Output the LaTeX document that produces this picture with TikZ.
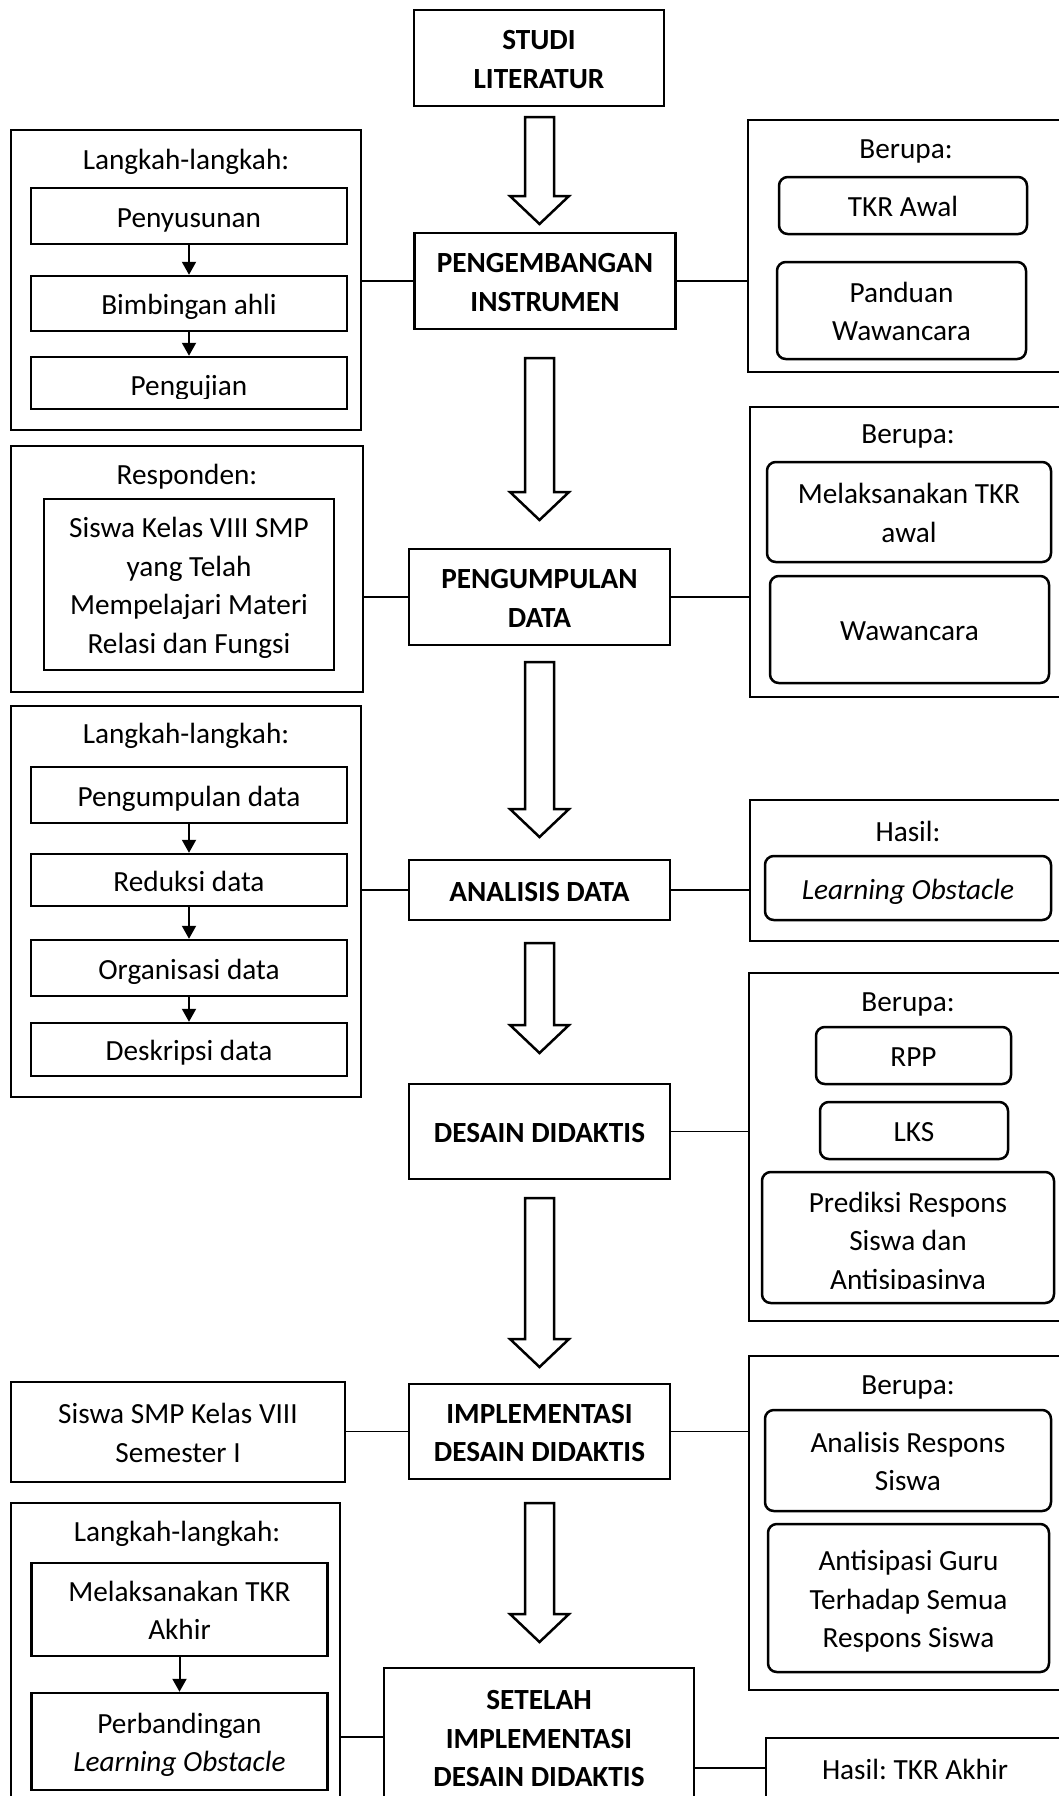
\documentclass[tikz,border=0pt]{standalone}
\usepackage{fontspec}
\setmainfont{Carlito}
\usetikzlibrary{arrows.meta}
\newcommand{\wordstrut}{\vrule width 0pt height 11pt depth 2.2pt}
\frenchspacing

\begin{document}
\begin{tikzpicture}[
  x=0.4pt, y=-0.4pt,
  every node/.style={font=\fontsize{11.7}{15.4}\selectfont, align=center, inner sep=0pt},
  boxtext/.style={execute at begin node=\wordstrut, execute at end node=\wordstrut},
  mainbox/.style={draw, line width=1pt, boxtext, font=\fontsize{11.7}{15.4}\selectfont\bfseries},
  outerbox/.style={draw, line width=1pt, boxtext},
  stepbox/.style={draw, line width=1pt, boxtext, minimum width=126.4pt},
  itembox/.style={draw, line width=1pt, boxtext, rounded corners=3.5pt},
  link/.style={line width=0.5pt},
  steparrow/.style={-{Triangle[length=5.2pt,width=5.6pt]}, line width=0.8pt},
  bigarrow/.style={draw, line width=1pt}
]
\useasboundingbox (0,0) rectangle (1059,1796);
\clip (0,0) rectangle (1059,1796);

% main flow
\node[mainbox, minimum width=100pt, minimum height=38.4pt] (studi) at (539,58) {\wordstrut STUDI\\LITERATUR};
\node[mainbox, minimum width=104.4pt, minimum height=38.4pt] (pengembangan) at (545,281) {\wordstrut PENGEMBANGAN\\INSTRUMEN};
\node[mainbox, minimum width=104.4pt, minimum height=38.4pt] (pengumpulan) at (539.5,597) {\wordstrut PENGUMPULAN\\DATA};
\node[mainbox, minimum width=104.4pt, minimum height=24pt] (analisis) at (539.5,890) {ANALISIS DATA};
\node[mainbox, minimum width=104.4pt, minimum height=38pt] (desain) at (539.5,1131.5) {DESAIN DIDAKTIS};
\node[mainbox, minimum width=104.4pt, minimum height=38pt] (implementasi) at (539.5,1431.5) {\wordstrut IMPLEMENTASI\\DESAIN DIDAKTIS};
\node[mainbox, minimum width=124pt, minimum height=55.2pt] (setelah) at (539,1737) {\wordstrut SETELAH\\IMPLEMENTASI\\DESAIN DIDAKTIS};

% hollow arrows between the stages
\draw[bigarrow] (525,117) -- ++(29,0) -- ++(0,79) -- ++(15,0) -- ++(-29.5,28) -- ++(-29.5,-28) -- ++(15,0) -- cycle;
\draw[bigarrow] (525,358) -- ++(29,0) -- ++(0,134) -- ++(15,0) -- ++(-29.5,28) -- ++(-29.5,-28) -- ++(15,0) -- cycle;
\draw[bigarrow] (525,662) -- ++(29,0) -- ++(0,147) -- ++(15,0) -- ++(-29.5,28) -- ++(-29.5,-28) -- ++(15,0) -- cycle;
\draw[bigarrow] (525,943) -- ++(29,0) -- ++(0,82) -- ++(15,0) -- ++(-29.5,28) -- ++(-29.5,-28) -- ++(15,0) -- cycle;
\draw[bigarrow] (525,1198) -- ++(29,0) -- ++(0,141) -- ++(15,0) -- ++(-29.5,28) -- ++(-29.5,-28) -- ++(15,0) -- cycle;
\draw[bigarrow] (525,1503) -- ++(29,0) -- ++(0,111) -- ++(15,0) -- ++(-29.5,28) -- ++(-29.5,-28) -- ++(15,0) -- cycle;

% left side
\node[outerbox, minimum width=140pt, minimum height=120pt] (langkahA) at (186,280) {};
\node (langkahAtitle) at (186,162) {Langkah-langkah:};
\node[stepbox, minimum height=22.4pt] (penyusunan) at (189,216) {Penyusunan};
\node[stepbox, minimum height=22pt] (bimbingan) at (189,303.5) {Bimbingan ahli};
\node[stepbox, minimum height=20.8pt] (pengujian) at (189,383) {};
\begin{scope}
  \clip (32,357) rectangle (347,398);
  \node[anchor=base] (pengujiantext) at (189,395) {Pengujian};
\end{scope}
\draw[steparrow] (penyusunan.south) -- (bimbingan.north);
\draw[steparrow] (bimbingan.south) -- (pengujian.north);

\node[outerbox, minimum width=140.8pt, minimum height=98.4pt] (responden) at (187,569) {};
\node (respondentitle) at (187,477) {Responden:};
\node[stepbox, minimum width=116pt, minimum height=68.4pt] (siswa) at (189,584.5) {\wordstrut Siswa Kelas VIII SMP\\yang Telah\\Mempelajari Materi\\Relasi dan Fungsi};

\node[outerbox, minimum width=140pt, minimum height=156.4pt] (langkahB) at (186,901.5) {};
\node (langkahBtitle) at (186,736) {Langkah-langkah:};
\node[stepbox, minimum height=22.4pt] (pdata) at (189,795) {Pengumpulan data};
\node[stepbox, minimum height=20.8pt] (rdata) at (189,880) {Reduksi data};
\node[stepbox, minimum height=22.4pt] (odata) at (189,968) {Organisasi data};
\node[stepbox, minimum height=21.2pt] (ddata) at (189,1049.5) {Deskripsi data};
\draw[steparrow] (pdata.south) -- (rdata.north);
\draw[steparrow] (rdata.south) -- (odata.north);
\draw[steparrow] (odata.south) -- (ddata.north);

\node[outerbox, minimum width=133.6pt, minimum height=40pt] (subjek) at (178,1432) {\wordstrut Siswa SMP Kelas VIII\\Semester I};

\node[outerbox, minimum width=131.6pt, minimum height=130.8pt] (langkahC) at (175.5,1666.5) {};
\node (langkahCtitle) at (177,1534) {Langkah-langkah:};
\node[stepbox, minimum width=118.4pt, minimum height=37.2pt] (tkrakhir) at (179.5,1609.5) {\wordstrut Melaksanakan TKR\\Akhir};
\node[stepbox, minimum width=118.4pt, minimum height=38.8pt] (perbandingan) at (179.5,1741.5) {\wordstrut Perbandingan\\\textit{Learning Obstacle}};
\draw[steparrow] (tkrakhir.south) -- (perbandingan.north);

% right side
\node[outerbox, minimum width=126.4pt, minimum height=100.8pt] (berupaA) at (906,246) {};
\node (berupaAtitle) at (906,151) {Berupa:};
\node[itembox, minimum width=99.2pt, minimum height=22.8pt] (tkrawal) at (903,205.5) {TKR Awal};
\node[itembox, minimum width=99.6pt, minimum height=38.8pt] (panduan) at (901.5,310.5) {\wordstrut Panduan\\Wawancara};

\node[outerbox, minimum width=125.6pt, minimum height=116pt] (berupaB) at (907,552) {};
\node (berupaBtitle) at (908,436) {Berupa:};
\node[itembox, minimum width=113.6pt, minimum height=40pt] (tkrawalB) at (909,512) {\wordstrut Melaksanakan TKR\\awal};
\node[itembox, minimum width=111.6pt, minimum height=42.8pt] (wawancara) at (909.5,629.5) {Wawancara};

\node[outerbox, minimum width=125.6pt, minimum height=56.4pt] (hasilA) at (907,870.5) {};
\node (hasilAtitle) at (908,831) {Hasil:};
\node[itembox, minimum width=114.4pt, minimum height=25.6pt] (obstacle) at (908,888) {\textit{Learning Obstacle}};

\node[outerbox, minimum width=126pt, minimum height=139.2pt] (berupaC) at (906.5,1147) {};
\node (berupaCtitle) at (908,1004) {Berupa:};
\node[itembox, minimum width=78pt, minimum height=22.8pt] (rpp) at (913.5,1055.5) {RPP};
\node[itembox, minimum width=75.2pt, minimum height=22.8pt] (lks) at (914,1130.5) {LKS};
\node[itembox, minimum width=116.8pt, minimum height=52.4pt] (prediksi) at (908,1237.5) {};
\begin{scope}
  \clip (764,1172) rectangle (1052,1288);
  \node[boxtext] (prediksitext) at (908,1239.5) {\wordstrut Prediksi Respons\\Siswa dan\\Antisipasinya};
\end{scope}

\node[outerbox, minimum width=126pt, minimum height=133.6pt] (berupaD) at (906.5,1523) {};
\node (berupaDtitle) at (908,1387) {Berupa:};
\node[itembox, minimum width=114.4pt, minimum height=40.4pt] (analisisrespons) at (908,1460.5) {\wordstrut Analisis Respons\\Siswa};
\node[itembox, minimum width=112.4pt, minimum height=59.2pt] (antisipasi) at (908.5,1598) {\wordstrut Antisipasi Guru\\Terhadap Semua\\Respons Siswa};

\node[outerbox, minimum width=119.2pt, minimum height=24pt] (hasilB) at (915,1768) {Hasil: TKR Akhir};

% links to the main flow
\draw[link] (pengembangan.west) -- (pengembangan.west -| langkahA.east);
\draw[link] (pengembangan.east) -- (pengembangan.east -| berupaA.west);
\draw[link] (pengumpulan.west) -- (pengumpulan.west -| responden.east);
\draw[link] (pengumpulan.east) -- (pengumpulan.east -| berupaB.west);
\draw[link] (analisis.west) -- (analisis.west -| langkahB.east);
\draw[link] (analisis.east) -- (analisis.east -| hasilA.west);
\draw[link] (desain.east) -- (desain.east -| berupaC.west);
\draw[link] (implementasi.west) -- (implementasi.west -| subjek.east);
\draw[link] (implementasi.east) -- (implementasi.east -| berupaD.west);
\draw[link] (setelah.west) -- (setelah.west -| langkahC.east);
\draw[link] (hasilB.west) -- (hasilB.west -| setelah.east);
\end{tikzpicture}
\end{document}
